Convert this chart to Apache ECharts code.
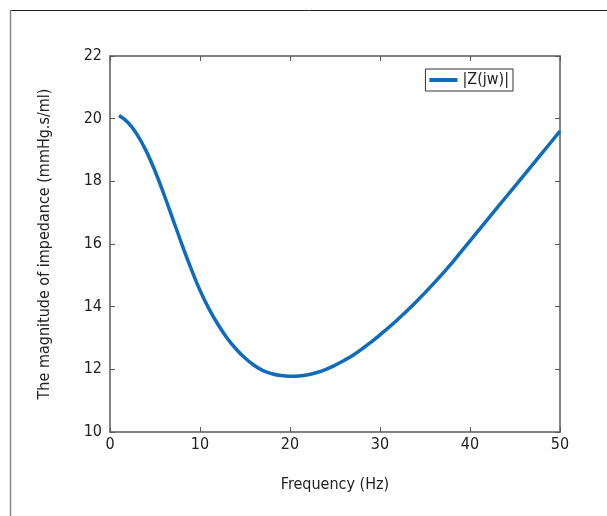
<!DOCTYPE html>
<html>
<head>
<meta charset="utf-8">
<script src="https://cdn.jsdelivr.net/npm/echarts@6/dist/echarts.min.js"></script>
<style>
  html, body { margin: 0; padding: 0; background: #fff; }
  #chart { width: 607px; height: 516px; }
</style>
</head>
<body>
<div id="chart"></div>
<script>
// frequency (Hz) and |Z(jw)|
const freq = [1, 2, 3, 4, 5, 6, 7, 8, 9, 10, 11, 12, 13, 14, 15, 16, 17, 18, 19, 20,
  21, 22, 23, 24, 25, 26, 27, 28, 29, 30, 32, 34, 36, 38, 40, 42, 44, 46, 48, 50];
const magZ = [20.1, 19.88, 19.5, 18.98, 18.33, 17.58, 16.78, 15.98, 15.22, 14.52,
  13.93, 13.43, 13.0, 12.65, 12.36, 12.13, 11.96, 11.86, 11.8, 11.78,
  11.79, 11.83, 11.9, 12.0, 12.13, 12.28, 12.45, 12.65, 12.87, 13.1,
  13.6, 14.15, 14.75, 15.4, 16.1, 16.8, 17.5, 18.2, 18.9, 19.6];
const xTicks = [0, 50, 10];  // min, max, interval
const yTicks = [10, 22, 2];

const font = "'Liberation Sans Narrow', 'DejaVu Sans Condensed', sans-serif";
const axisColor = '#5a5a5a';

const chart = echarts.init(document.getElementById('chart'));

const common = {
  axisLine: { show: true, onZero: false, lineStyle: { color: axisColor, width: 1.5 } },
  axisTick: { show: true, inside: true, length: 5, lineStyle: { color: axisColor } },
  splitLine: { show: false }
};

chart.setOption({
  animation: false,
  grid: { left: 110, top: 56, right: 47, bottom: 84 },
  graphic: [
    { type: 'line', shape: { x1: 10, y1: 10.5, x2: 607, y2: 10.5 }, style: { stroke: '#222', lineWidth: 1 } },
    { type: 'line', shape: { x1: 10.5, y1: 10, x2: 10.5, y2: 516 }, style: { stroke: '#888', lineWidth: 1.5 } }
  ],
  legend: {
    right: 94, top: 69,
    data: ['|Z(jw)|'],
    icon: 'rect',
    itemWidth: 28, itemHeight: 4,
    itemGap: 6,
    padding: [3, 4, 3, 4],
    borderColor: '#333', borderWidth: 1,
    textStyle: { fontFamily: font, fontSize: 16, color: '#222' }
  },
  xAxis: [
    Object.assign({
      type: 'value', min: xTicks[0], max: xTicks[1], interval: xTicks[2],
      name: 'Frequency (Hz)', nameLocation: 'middle', nameGap: 45,
      nameTextStyle: { fontFamily: font, fontSize: 16, color: '#222' },
      axisLabel: { fontFamily: font, fontSize: 16, color: '#222', margin: 5 }
    }, common),
    Object.assign({
      type: 'value', position: 'top', min: xTicks[0], max: xTicks[1], interval: xTicks[2],
      axisLabel: { show: false }
    }, common)
  ],
  yAxis: [
    Object.assign({
      type: 'value', min: yTicks[0], max: yTicks[1], interval: yTicks[2],
      name: 'The magnitude of impedance (mmHg.s/ml)', nameLocation: 'middle', nameGap: 57,
      nameTextStyle: { fontFamily: font, fontSize: 16, color: '#222' },
      axisLabel: { fontFamily: font, fontSize: 16, color: '#222', margin: 8 }
    }, common),
    Object.assign({
      type: 'value', position: 'right', min: yTicks[0], max: yTicks[1], interval: yTicks[2],
      axisLabel: { show: false }
    }, common)
  ],
  series: [{
    name: '|Z(jw)|',
    type: 'line',
    smooth: 0.4,
    symbol: 'none',
    color: '#0f6cbd',
    lineStyle: { width: 3.5 },
    data: freq.map((f, i) => [f, magZ[i]])
  }]
});
</script>
</body>
</html>
